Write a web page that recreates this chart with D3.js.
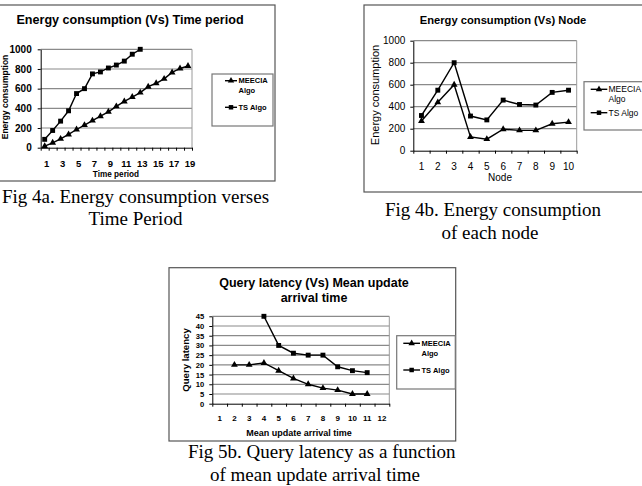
<!DOCTYPE html>
<html>
<head>
<meta charset="utf-8">
<script src="https://cdn.jsdelivr.net/npm/d3@7"></script>
<style>
body { margin: 0; background: #fff; }
svg { display: block; }
</style>
</head>
<body>
<svg id="fig" width="642" height="486"></svg>
<script>
// Fig 4a - energy vs time period
var periods = [1, 2, 3, 4, 5, 6, 7, 8, 9, 10, 11, 12, 13, 14, 15, 16, 17, 18, 19];
var periodLabels = [1, 3, 5, 7, 9, 11, 13, 15, 17, 19];
var meeciaTime = [15, 50, 90, 135, 185, 230, 275, 320, 365, 420, 470, 515, 560, 620, 655, 700, 765, 805, 830];
var tsTime = [85, 175, 270, 375, 550, 600, 750, 770, 810, 840, 880, 950, 1000];
var energyTicks = [0, 200, 400, 600, 800, 1000];

// Fig 4b - energy per node
var nodes = [1, 2, 3, 4, 5, 6, 7, 8, 9, 10];
var meeciaNode = [270, 440, 600, 125, 105, 195, 185, 185, 245, 260];
var tsNode = [320, 550, 800, 315, 280, 460, 420, 415, 530, 550];

// Fig 5b - query latency vs mean update arrival time
var arrival = [1, 2, 3, 4, 5, 6, 7, 8, 9, 10, 11, 12];
var meeciaLatency = [null, 20, 20, 21, 17, 13, 10, 8, 7, 5, 5, null];
var tsLatency = [null, null, null, 45, 30, 26, 25, 25, 19, 17, 16, null];
var latencyTicks = [0, 5, 10, 15, 20, 25, 30, 35, 40, 45];

var SANS = "'Liberation Sans', Arial, sans-serif";
var SERIF = "'Liberation Serif', 'Times New Roman', serif";

var svg = d3.select("#fig");

function drawChart(o) {
    var g = svg.append("g");

    // outer frame
    g.append("rect")
        .attr("x", o.frame[0]).attr("y", o.frame[1])
        .attr("width", o.frame[2]).attr("height", o.frame[3])
        .attr("fill", "#fff").attr("stroke", "#555").attr("stroke-width", 1.2);

    var x = d3.scaleBand().domain(o.cats).range([o.left, o.right]);
    var y = d3.scaleLinear().domain([0, d3.max(o.yTicks)]).range([o.bottom, o.top]);
    var cx = function (d) { return x(d) + x.bandwidth() / 2; };

    // gridlines + right edge of plot
    g.selectAll(".grid")
        .data(o.yTicks.filter(function (d) { return d > 0; }))
        .enter().append("line")
        .attr("x1", o.left).attr("x2", o.right)
        .attr("y1", function (d) { return y(d); })
        .attr("y2", function (d) { return y(d); })
        .attr("stroke", "#8a8a8a").attr("stroke-width", 1.2);
    g.append("line")
        .attr("x1", o.right).attr("x2", o.right)
        .attr("y1", o.top).attr("y2", o.bottom)
        .attr("stroke", "#9a9a9a");

    // y axis
    var yAxis = g.append("g")
        .attr("transform", "translate(" + o.left + ",0)")
        .call(d3.axisLeft(y).tickValues(o.yTicks).tickFormat(d3.format("d"))
            .tickSize(3).tickSizeOuter(0).tickPadding(o.yPad));
    yAxis.selectAll("text")
        .style("font-family", SANS).style("font-size", o.tickFont + "px")
        .style("font-weight", o.weight).attr("fill", "#000");

    // x axis, ticks on category boundaries (excel style)
    var xb = d3.scaleLinear().domain([0, o.cats.length]).range([o.left, o.right]);
    g.append("g")
        .attr("transform", "translate(0," + o.bottom + ")")
        .call(d3.axisBottom(xb).tickValues(d3.range(o.cats.length + 1))
            .tickSize(3).tickSizeOuter(0).tickFormat(""));
    g.selectAll("path.domain, .tick line").attr("stroke", "#000");

    g.selectAll(".xl")
        .data(o.xLabels)
        .enter().append("text")
        .attr("x", function (d) { return cx(d) + (o.xShift || 0); })
        .attr("y", o.xLabelY).attr("dy", "0.35em")
        .attr("text-anchor", "middle")
        .style("font-family", SANS).style("font-size", o.xFont + "px")
        .style("font-weight", o.weight)
        .text(function (d) { return d; });

    // series
    var line = d3.line()
        .defined(function (d) { return d.v != null; })
        .x(function (d) { return cx(d.c); })
        .y(function (d) { return y(d.v); });

    o.series.forEach(function (s) {
        var pts = o.cats.map(function (c, i) { return { c: c, v: s.values[i] == null ? null : s.values[i] }; });
        g.append("path").datum(pts)
            .attr("d", line)
            .attr("fill", "none").attr("stroke", "#000").attr("stroke-width", 1.4);
        g.selectAll(".m" + s.cls)
            .data(pts.filter(function (d) { return d.v != null; }))
            .enter().append("path")
            .attr("transform", function (d) { return "translate(" + cx(d.c) + "," + y(d.v) + ")"; })
            .attr("d", d3.symbol().type(s.symbol).size(s.symbol == d3.symbolSquare ? 24 : 20))
            .attr("fill", "#000");
    });

    // titles
    o.title.forEach(function (t) {
        g.append("text")
            .attr("x", t[1]).attr("y", t[2]).attr("dy", "0.35em")
            .attr("text-anchor", "middle")
            .style("font-family", SANS).style("font-weight", "bold")
            .style("font-size", o.titleFont + "px")
            .text(t[0]);
    });
    g.append("text")
        .attr("x", o.xTitle[1]).attr("y", o.xTitle[2]).attr("dy", "0.35em")
        .attr("text-anchor", "middle")
        .style("font-family", SANS).style("font-weight", o.weight)
        .style("font-size", o.xTitleFont + "px")
        .text(o.xTitle[0]);
    g.append("text")
        .attr("transform", "translate(" + o.yTitle[1] + "," + o.yTitle[2] + ") rotate(-90)")
        .attr("dy", "0.35em")
        .attr("text-anchor", "middle")
        .style("font-family", SANS).style("font-weight", o.weight)
        .style("font-size", o.yTitleFont + "px")
        .text(o.yTitle[0]);

    // legend
    var L = o.legend;
    g.append("rect")
        .attr("x", L.box[0]).attr("y", L.box[1])
        .attr("width", L.box[2]).attr("height", L.box[3])
        .attr("fill", "#fff").attr("stroke", "#777").attr("stroke-width", 1.2);
    o.series.forEach(function (s, i) {
        var ly = L.rows[i];
        g.append("line")
            .attr("x1", L.line[0]).attr("x2", L.line[1])
            .attr("y1", ly).attr("y2", ly)
            .attr("stroke", "#000").attr("stroke-width", 1.4);
        g.append("path")
            .attr("transform", "translate(" + (L.line[0] + L.line[1]) / 2 + "," + ly + ")")
            .attr("d", d3.symbol().type(s.symbol).size(s.symbol == d3.symbolSquare ? 20 : 18))
            .attr("fill", "#000");
        var words = s.name.split(" ");
        var lines = s.wrap ? [words[0], words.slice(1).join(" ")] : [s.name];
        lines.forEach(function (w, k) {
            g.append("text")
                .attr("x", L.textX).attr("y", ly + k * L.lh).attr("dy", "0.35em")
                .style("font-family", SANS).style("font-weight", o.weight)
                .style("font-size", L.font + "px")
                .text(w);
        });
    });
}

function caption(lines) {
    lines.forEach(function (t) {
        svg.append("text")
            .attr("x", t[1]).attr("y", t[2]).attr("dy", "0.35em")
            .attr("text-anchor", "middle")
            .style("font-family", SERIF).style("font-size", "19px")
            .text(t[0]);
    });
}

drawChart({
    frame: [-5, 5, 280, 176],
    cats: periods, xLabels: periodLabels,
    left: 40.7, right: 192, top: 49.3, bottom: 147.7,
    yTicks: energyTicks, yPad: 6,
    weight: "bold", tickFont: 10, xFont: 9.5, xLabelY: 164, xShift: 2,
    titleFont: 12.6, title: [["Energy consumption (Vs) Time period", 130, 20]],
    xTitle: ["Time period", 116, 174], xTitleFont: 8.2,
    yTitle: ["Energy consumption", 5, 97], yTitleFont: 8.5,
    series: [
        { name: "MEECIA Algo", values: meeciaTime, symbol: d3.symbolTriangle, cls: "a", wrap: true },
        { name: "TS Algo", values: tsTime, symbol: d3.symbolSquare, cls: "b" }
    ],
    legend: { box: [212, 74, 61, 52], rows: [80.7, 107.3], line: [225, 237], textX: 238.5, lh: 10, font: 7.5 }
});

drawChart({
    frame: [364, 5, 300, 187],
    cats: nodes, xLabels: nodes,
    left: 413.3, right: 576.7, top: 40.7, bottom: 150.7,
    yTicks: energyTicks, yPad: 5,
    weight: "normal", tickFont: 10, xFont: 10, xLabelY: 166.7,
    titleFont: 11.2, title: [["Energy consumption (Vs) Node", 503, 20]],
    xTitle: ["Node", 500, 177.5], xTitleFont: 10,
    yTitle: ["Energy consumption", 375, 95], yTitleFont: 11,
    series: [
        { name: "MEECIA Algo", values: meeciaNode, symbol: d3.symbolTriangle, cls: "a", wrap: true },
        { name: "TS Algo", values: tsNode, symbol: d3.symbolSquare, cls: "b" }
    ],
    legend: { box: [584, 81.7, 70, 48.3], rows: [89.3, 112.7], line: [590.7, 607.3], textX: 608.5, lh: 9.5, font: 8.5 }
});

drawChart({
    frame: [169, 267.7, 286.7, 173.3],
    cats: arrival, xLabels: arrival,
    left: 212.3, right: 389.3, top: 316.3, bottom: 403.7,
    yTicks: latencyTicks, yPad: 5,
    weight: "bold", tickFont: 7.6, xFont: 8, xLabelY: 418,
    titleFont: 12.5, title: [["Query latency (Vs) Mean update", 314, 282.3], ["arrival time", 314, 297.7]],
    xTitle: ["Mean update arrival time", 299, 432.7], xTitleFont: 9,
    yTitle: ["Query latency", 186, 360], yTitleFont: 9.6,
    series: [
        { name: "MEECIA Algo", values: meeciaLatency, symbol: d3.symbolTriangle, cls: "a", wrap: true },
        { name: "TS Algo", values: tsLatency, symbol: d3.symbolSquare, cls: "b" }
    ],
    legend: { box: [396.7, 335.7, 58.6, 53.3], rows: [343.3, 370], line: [403.3, 420], textX: 421.5, lh: 10, font: 7.5 }
});

caption([["Fig 4a. Energy consumption verses", 135.5, 196], ["Time Period", 135.5, 218]]);
caption([["Fig 4b. Energy consumption", 493, 209], ["of each node", 490, 232]]);
caption([["Fig 5b. Query latency as a function", 321.7, 451], ["of mean update arrival time", 315, 474]]);
</script>
</body>
</html>
